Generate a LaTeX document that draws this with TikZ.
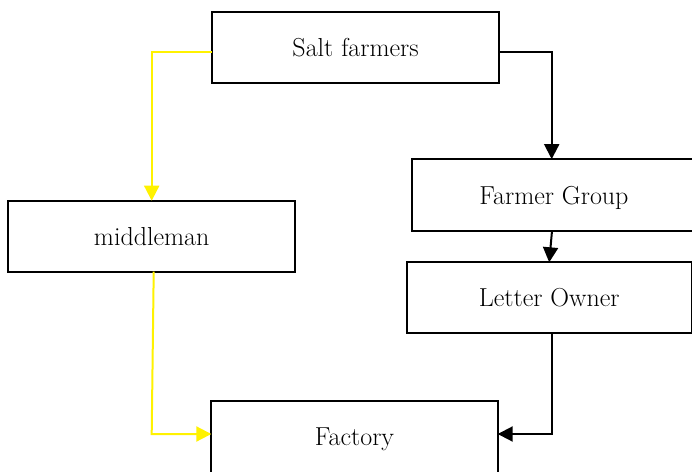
\documentclass[tikz,border=0pt]{standalone}
\usetikzlibrary{arrows.meta}
\tikzset{
  box/.style={draw=black, line width=2pt, rectangle, inner sep=0pt, outer sep=0pt,
    font=\fontsize{26}{30}\selectfont, text=black, text depth=0pt},
  blackline/.style={draw=black, line width=2pt, -{Triangle[length=15pt,width=15pt]}},
  yline/.style={draw=yellow, line width=2pt, -{Triangle[length=15pt,width=15pt]}}
}
\begin{document}
\begin{tikzpicture}[x=1pt,y=-1pt]
  \useasboundingbox (0,0) rectangle (692,471);
  \fill[white] (0,0) rectangle (692,471);

  % boxes
  \node[box, minimum width=286.7pt, minimum height=71.6pt] (salt)    at (355.6,47.5)  {Salt farmers};
  \node[box, minimum width=284pt,   minimum height=71.7pt] (group)   at (554,195)     {Farmer Group};
  \node[box, minimum width=286.7pt, minimum height=71pt]   (middle)  at (151.7,236.2) {middleman};
  \node[box, minimum width=285pt,   minimum height=71pt]   (owner)   at (549.2,297.8) {Letter Owner};
  \node[box, minimum width=286.4pt, minimum height=72pt]   (factory) at (354.5,437)   {Factory};

  % helper points for the elbows
  \path ([yshift=-4pt]salt.west) coordinate (sw);
  \path ([yshift=-4pt]salt.east) coordinate (se);
  \path ([yshift=3pt]factory.west) coordinate (fw);
  \path ([yshift=3pt]factory.east) coordinate (fe);

  % yellow route through the middleman
  \draw[yline] (sw) -| (middle.north);
  \draw[yline] ([xshift=2pt]middle.south) -- (fw -| middle.south) -- (fw);

  % black route through the farmer group
  \draw[blackline] (se) -| ([xshift=-2.3pt]group.north);
  \draw[blackline] ([xshift=-2pt]group.south) -- (owner.north);
  \draw[blackline] ([xshift=2.5pt]owner.south) |- (fe);
\end{tikzpicture}
\end{document}
